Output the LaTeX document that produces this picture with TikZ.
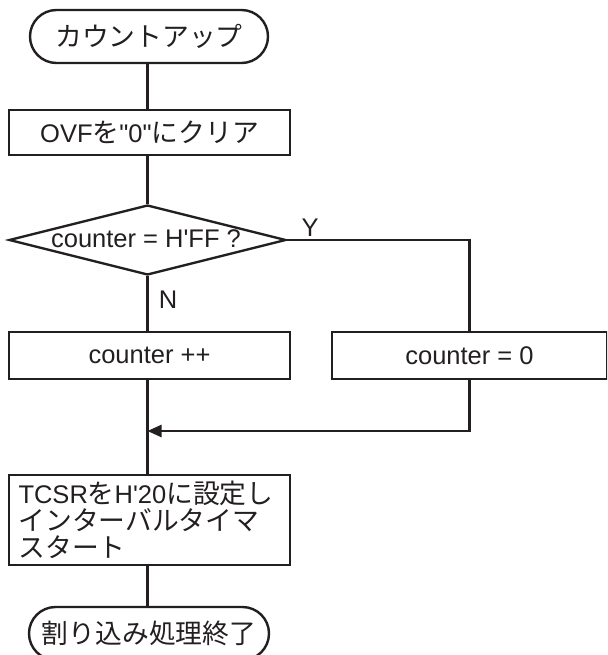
\documentclass[tikz,border=0pt]{standalone}
\usepackage{fontspec}
\setmainfont{Liberation Sans}
\newfontfamily\jpfont[Scale=1.05]{Noto Sans CJK JP}
\newcommand\J[1]{{\jpfont #1}}
\usetikzlibrary{arrows.meta,shapes.geometric}
\definecolor{ink}{RGB}{35,31,32}
\begin{document}
\begin{tikzpicture}[x=1pt,y=-1pt,
  font=\fontsize{25.5}{27}\selectfont,
  line width=2.4pt, draw=ink, text=ink,
  every node/.style={text=ink},
  term/.style={draw=ink, line width=2.4pt, rectangle, rounded corners=26.5pt, minimum height=53pt, inner sep=0pt},
  proc/.style={draw=ink, line width=2.4pt, rectangle, inner sep=0pt},
  conn/.style={draw=ink, line width=2.4pt},
  lbl/.style={inner sep=0pt}]
\useasboundingbox (0,0) rectangle (607,655);
\clip (0,0) rectangle (607,655);

\node[term, minimum width=238pt] (start) at (149,36.5) {\J{カウントアップ}};
\node[proc, minimum width=281pt, minimum height=45pt] (ovf) at (149.5,132.5) {OVF\J{を}\textquotedbl 0\textquotedbl\J{にクリア}};
\node[diamond, draw=ink, line width=2.4pt, inner sep=0pt, minimum width=277pt, minimum height=70pt] (dec) at (147.5,240) {};
\node[lbl] (dectext) at (146,239) {counter = H\textquotesingle FF ?};
\node[proc, minimum width=281pt, minimum height=47pt] (cpp) at (149.5,355.5) {counter ++};
\node[proc, minimum width=275pt, minimum height=47pt] (c0) at (469.5,355.5) {counter = 0};
\node[proc, minimum width=281pt, minimum height=90pt, text width=262pt, inner xsep=9.5pt, align=left] (tcsr) at (149.5,520) {TCSR\J{を}H\textquotesingle 20\J{に設定し}\\\J{インターバルタイマ}\\\J{スタート}};
\node[term, minimum width=240pt] (end) at (149,633.5) {\J{割り込み処理終了}};

\node[lbl] (ylbl) at (310,228) {Y};
\node[lbl] (nlbl) at (168,300) {N};
\coordinate (join) at (147.5,431);

\draw[conn] (start.south -| dec.north) -- (ovf.north -| dec.north);
\draw[conn] (ovf.south -| dec.north) -- (dec.north);
\draw[conn] (dec.south) -- (cpp.north -| dec.south);
\draw[conn] (dec.east) -| (c0.north);
\draw[conn] (cpp.south -| dec.south) -- (tcsr.north -| dec.south);
\draw[conn, -{Triangle[length=14pt,width=12pt]}] (c0.south) |- (join);
\draw[conn] (tcsr.south -| dec.south) -- (end.north -| dec.south);
\end{tikzpicture}
\end{document}
